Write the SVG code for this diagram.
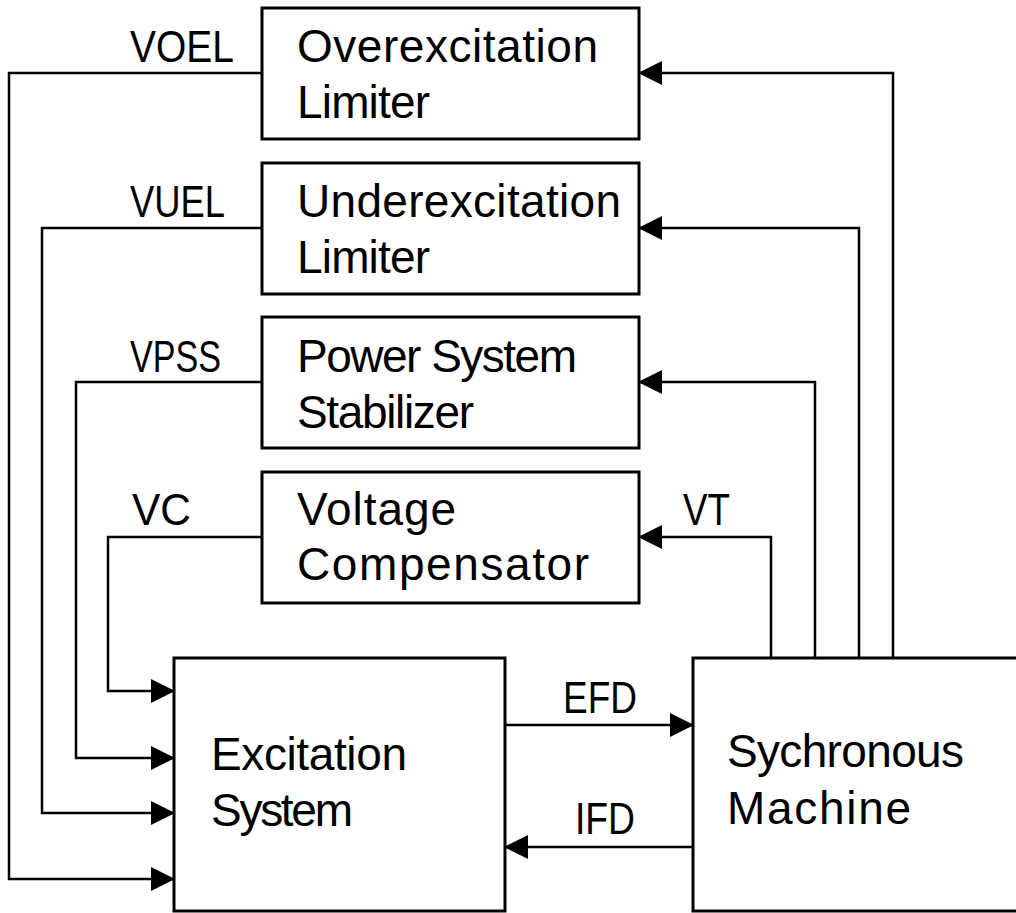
<svg xmlns="http://www.w3.org/2000/svg" width="1016" height="913" viewBox="0 0 1016 913">
<defs>
<marker id="arr" markerUnits="userSpaceOnUse" markerWidth="24" markerHeight="24" viewBox="0 0 24 24" refX="23" refY="12" orient="auto">
<path d="M0,0 L24,12 L0,24 Z" fill="#000"/>
</marker>
</defs>
<style>
.box{fill:#fff;stroke:#000;stroke-width:3}
.ln{fill:none;stroke:#000;stroke-width:2.5}
.t{font-family:"Liberation Sans",Arial,sans-serif;font-size:46px;fill:#000}
.lb{font-family:"Liberation Sans",Arial,sans-serif;font-size:44px;fill:#000}
</style>
<rect width="1016" height="913" fill="#fff"/>
<g id="connectors">
<path class="ln" d="M262,73 H9 V879 H174" marker-end="url(#arr)"/>
<path class="ln" d="M262,228 H42 V813 H174" marker-end="url(#arr)"/>
<path class="ln" d="M262,382 H76 V758 H174" marker-end="url(#arr)"/>
<path class="ln" d="M262,537 H108 V691 H174" marker-end="url(#arr)"/>
<path class="ln" d="M893,658 V73 H639" marker-end="url(#arr)"/>
<path class="ln" d="M859,658 V228 H639" marker-end="url(#arr)"/>
<path class="ln" d="M815,658 V382 H639" marker-end="url(#arr)"/>
<path class="ln" d="M771,658 V537 H639" marker-end="url(#arr)"/>
<path class="ln" d="M505,725 H693" marker-end="url(#arr)"/>
<path class="ln" d="M693,847 H505" marker-end="url(#arr)"/>
<text class="lb" x="130" y="62" textLength="104" lengthAdjust="spacingAndGlyphs">VOEL</text>
<text class="lb" x="130" y="217" textLength="95" lengthAdjust="spacingAndGlyphs">VUEL</text>
<text class="lb" x="130" y="372" textLength="91" lengthAdjust="spacingAndGlyphs">VPSS</text>
<text class="lb" x="132" y="525" textLength="59" lengthAdjust="spacingAndGlyphs">VC</text>
<text class="lb" x="683" y="525" textLength="47" lengthAdjust="spacingAndGlyphs">VT</text>
<text class="lb" x="563" y="713" textLength="74" lengthAdjust="spacingAndGlyphs">EFD</text>
<text class="lb" x="575" y="834" textLength="60" lengthAdjust="spacingAndGlyphs">IFD</text>
</g>
<g id="oel">
<rect class="box" x="262" y="8" width="377" height="131"/>
<text class="t" x="297" y="62" textLength="301">Overexcitation</text>
<text class="t" x="297" y="118" textLength="133">Limiter</text>
</g>
<g id="uel">
<rect class="box" x="262" y="163" width="377" height="131"/>
<text class="t" x="297" y="217" textLength="324">Underexcitation</text>
<text class="t" x="297" y="273" textLength="133">Limiter</text>
</g>
<g id="pss">
<rect class="box" x="262" y="317" width="377" height="131"/>
<text class="t" x="297" y="372" textLength="280">Power System</text>
<text class="t" x="297" y="428" textLength="177">Stabilizer</text>
</g>
<g id="vc">
<rect class="box" x="262" y="472" width="377" height="131"/>
<text class="t" x="297" y="525" textLength="159">Voltage</text>
<text class="t" x="297" y="580" textLength="292">Compensator</text>
</g>
<g id="exc">
<rect class="box" x="174" y="658" width="331" height="253"/>
<text class="t" x="211" y="770" textLength="196">Excitation</text>
<text class="t" x="211" y="826" textLength="142">System</text>
</g>
<g id="sm">
<rect class="box" x="693" y="658" width="330" height="253"/>
<text class="t" x="727" y="767" textLength="237">Sychronous</text>
<text class="t" x="727" y="824" textLength="184">Machine</text>
</g>
</svg>
